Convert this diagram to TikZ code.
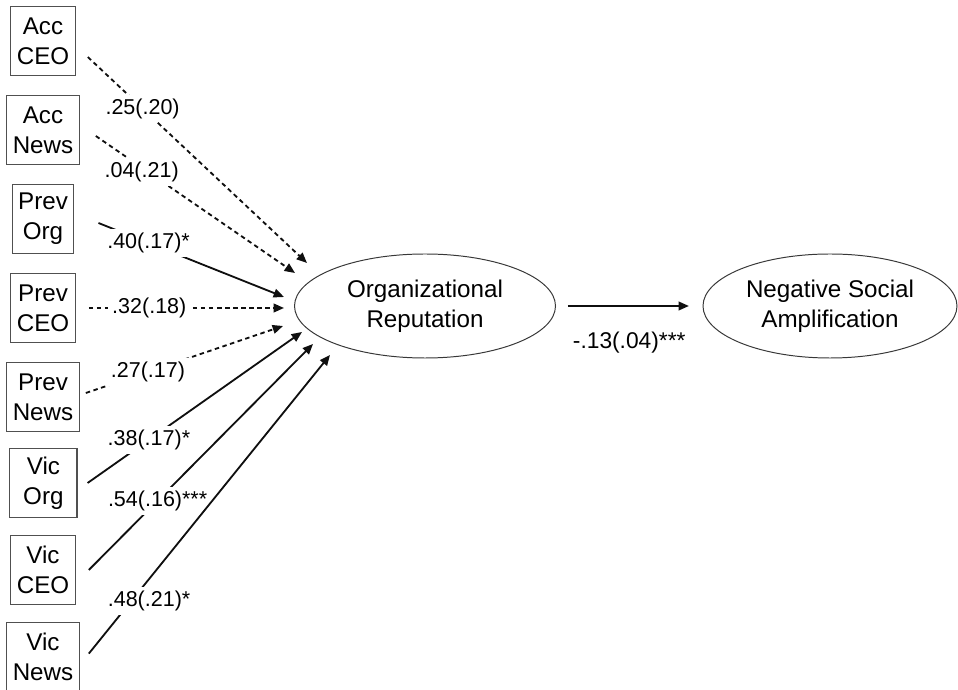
\documentclass[tikz,border=0pt]{standalone}
\usepackage{fontspec}
\setsansfont{Liberation Sans}
\usetikzlibrary{arrows.meta,positioning,shapes.geometric}
\definecolor{boxline}{RGB}{80,80,80}
\definecolor{ovalline}{RGB}{55,55,55}
\definecolor{pathink}{RGB}{15,15,15}

\begin{document}
\begin{tikzpicture}[
  x=1cm,y=1cm,
  font=\sffamily,
  var/.style={draw=boxline, line width=0.85pt, align=center,
              minimum height=1.725cm, inner xsep=0.15cm,
              font=\sffamily\fontsize{17.2}{21.3}\selectfont},
  latent/.style={ellipse, draw=ovalline, line width=0.7pt, align=center,
                 minimum height=2.6cm, inner sep=0pt,
                 font=\sffamily\fontsize{17.2}{21.3}\selectfont},
  sig/.style={-{Triangle[length=7.4pt,width=6.2pt]}, draw=pathink,
              line width=1.3pt},
  nonsig/.style={sig, dash pattern=on 3.2pt off 2.5pt},
  coef/.style={fill=white, inner sep=2.8pt,
               font=\sffamily\fontsize{15.3}{18}\selectfont}
]
\useasboundingbox (0,0) rectangle (23.95,17.225);

% Observed predictors down the left edge.
\node[var] (accceo)   at (1.075,16.2)  {Acc\\CEO};
\node[var] (accnews)  at (1.075,13.975) {Acc\\News};
\node[var] (prevorg)  at (1.075,11.75) {Prev\\Org};
\node[var] (prevceo)  at (1.075,9.525) {Prev\\CEO};
\node[var] (prevnews) at (1.075,7.3)   {Prev\\News};
\node[var, minimum width=1.68cm] (vicorg) at (1.085,5.15) {Vic\\Org};
\node[var] (vicceo)   at (1.075,2.975) {Vic\\CEO};
\node[var] (vicnews)  at (1.075,0.81)  {Vic\\News};

% Latent outcomes.
\node[latent, minimum width=6.525cm] (orgrep) at (10.625,9.575)
  {Organizational\\Reputation};
\node[latent, minimum width=6.35cm] (nsa) at (20.75,9.575)
  {Negative Social\\Amplification};

% Paths into reputation; dashed ones are not significant.
\draw[nonsig] ([shift={(0.3,-0.4)}]accceo.east)
  -- ([shift={(-2.95,1.075)}]orgrep.center)
  node[coef, pos=0.25] {.25(.20)};
\draw[nonsig] ([shift={(0.4,-0.15)}]accnews.east)
  -- ([shift={(-3.25,0.825)}]orgrep.center)
  node[coef, pos=0.23, yshift=-0.12cm] {.04(.21)};
\draw[sig] ([shift={(0.6,-0.1)}]prevorg.east)
  -- ([shift={(-3.525,0.225)}]orgrep.center)
  node[coef, pos=0.27] {.40(.17)*};
\draw[nonsig] ([xshift=0.325cm]prevceo.east)
  -- ([shift={(-3.525,-0.05)}]orgrep.center)
  node[coef, pos=0.31] {.32(.18)};
\draw[nonsig] ([shift={(0.15,0.1)}]prevnews.east)
  -- ([shift={(-3.55,-0.5)}]orgrep.center)
  node[coef, pos=0.315] {.27(.17)};
\draw[sig] ([xshift=0.25cm]vicorg.east)
  -- ([shift={(-3.075,-0.65)}]orgrep.center)
  node[coef, pos=0.286] {.38(.17)*};
\draw[sig] ([xshift=0.325cm]vicceo.east)
  -- ([shift={(-2.8,-0.95)}]orgrep.center)
  node[coef, pos=0.307] {.54(.16)***};
\draw[sig] ([shift={(0.225,0.075)}]vicnews.east)
  -- ([shift={(-2.375,-1.225)}]orgrep.center)
  node[coef, pos=0.2, xshift=0.3cm, yshift=-0.175cm] {.48(.21)*};

% Reputation to amplification.
\draw[sig, shorten <=0.3cm, shorten >=0.34cm] (orgrep.east) -- (nsa.west)
  node[midway, below=0.5cm, font=\sffamily\fontsize{16.2}{19}\selectfont]
  {-.13(.04)***};

\end{tikzpicture}
\end{document}
